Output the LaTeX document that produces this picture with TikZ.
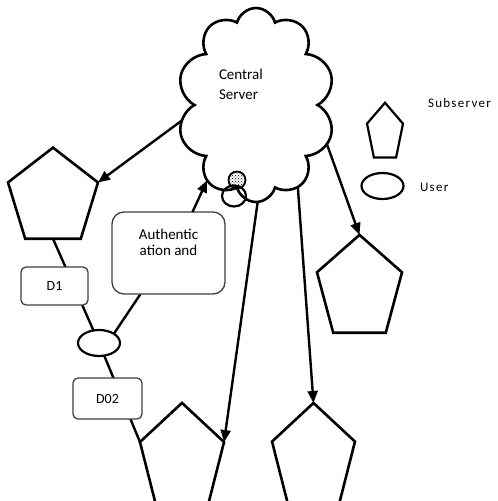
\documentclass[tikz,border=0pt]{standalone}
\usepackage{fontspec}
\setmainfont{Carlito}
\newfontfamily\legfont[LetterSpace=10]{Carlito}
\usetikzlibrary{
    arrows.meta,
    positioning,
    shapes.geometric,
    shapes.symbols,
    patterns,
    backgrounds,
}

\begin{document}
\begin{tikzpicture}[
        x=1pt, y=-1pt,
        every node/.style={inner sep=0pt, outer sep=0pt},
        pent/.style={draw, line width=2.6pt, regular polygon, regular polygon sides=5, line join=miter},
        usr/.style={draw, ellipse, line width=2.2pt, minimum width=42pt, minimum height=26pt},
        lbox/.style={draw=black!75, line width=1.3pt, rounded corners=5pt, fill=white,
            font=\fontsize{14}{16}\selectfont},
        arr/.style={-{Triangle[length=12pt,width=10pt]}, line width=2.4pt},
        link/.style={line width=2.4pt},
        leg/.style={font=\legfont\fontsize{13}{15}\selectfont, anchor=west},
    ]
        \useasboundingbox (0,0) rectangle (498,501);

        % Central server
        \node[draw, cloud, cloud puffs=10, cloud ignores aspect, minimum width=158pt,
            minimum height=194pt, line width=2.6pt] (srv) at (256,105) {};
        \node[font=\fontsize{15}{20}\selectfont, align=left, anchor=north west] (srvlbl) at (219,69) {Central\\Server};
        \node[usr, minimum width=24pt, minimum height=21pt] (cusr) at (234,196) {};
        \node[draw, circle, line width=1.8pt, minimum size=17pt, pattern=crosshatch dots] (cdot) at (237,180) {};

        % Subservers
        \node[pent, minimum size=94.6pt, yscale=1.065] (lp) at (53,198) {};
        \node[pent, minimum size=89.4pt, yscale=1.21] (rp) at (359.5,289) {};
        \node[pent, minimum size=88.4pt, yscale=1.28] (bm) at (182,459.5) {};
        \node[pent, minimum size=87.2pt, yscale=1.28] (br) at (313.5,458.8) {};

        % Users and links
        \node[usr] (user) at (99,343) {};
        \node[lbox, minimum width=67pt, minimum height=38pt] (d1) at (54.5,286) {D1};
        \node[lbox, minimum width=69pt, minimum height=41pt] (d2) at (107.5,398.5) {D02};
        \node[lbox, rounded corners=12pt, minimum width=113pt, minimum height=82pt, align=center,
            font=\fontsize{15}{16}\selectfont, text depth=21pt] (auth) at (168.5,253) {Authentic\\ation and};

        \begin{pgfonlayer}{background}
            \draw[link] (lp.south) -- (user);
            \draw[link] (user) -- (bm.corner 2);
            \draw[link] (user.north east) -- ([xshift=-28pt]auth.south);
        \end{pgfonlayer}

        % Arrows
        \draw[arr] ([xshift=24pt]auth.north) -- (srv.237);
        \draw[arr] (srv.192) -- (lp.corner 5);
        \draw[arr] (srv.271) -- (bm.corner 5);
        \draw[arr] (srv.297) -- (br.corner 1);
        \draw[arr] (srv.331) -- (rp.corner 1);

        % Legend
        \node[pent, minimum size=37.8pt, yscale=1.6, line width=2.2pt] (legsub) at (385,133) {};
        \node[leg] (sublbl) at (428,103) {Subserver};
        \node[usr] (legusr) at (382.5,186) {};
        \node[leg] (usrlbl) at (420,187) {User};
    \end{tikzpicture}
\end{document}
